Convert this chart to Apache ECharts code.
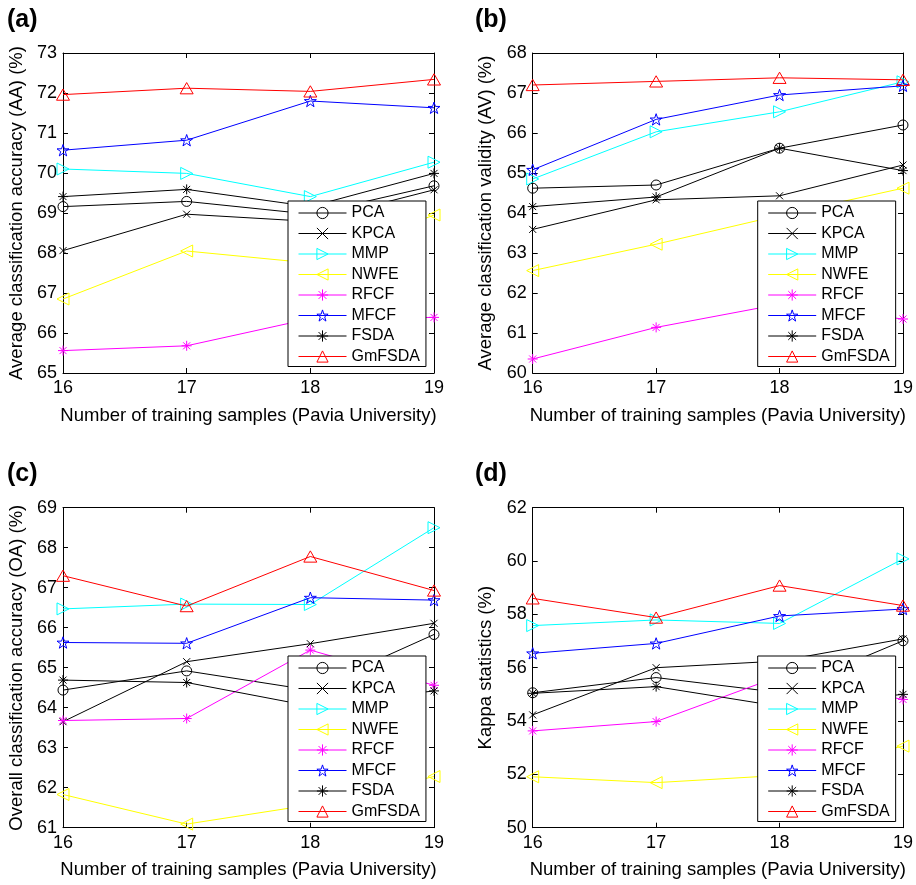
<!DOCTYPE html>
<html><head><meta charset="utf-8">
<script src="https://cdn.jsdelivr.net/npm/echarts@6/dist/echarts.min.js"></script>
<style>html,body{margin:0;padding:0;background:#fff}#c{width:916px;height:885px}</style>
</head><body><div id="c"></div>
<script>
// ---------------- data ----------------
const trainingSamples = [16, 17, 18, 19];
const methods = ['PCA', 'KPCA', 'MMP', 'NWFE', 'RFCF', 'MFCF', 'FSDA', 'GmFSDA'];

// (a) Average classification accuracy (AA) (%)
const aaPCA    = [69.16, 69.29, 68.97, 69.68];
const aaKPCA   = [68.06, 68.97, 68.79, 69.58];
const aaMMP    = [70.10, 69.99, 69.41, 70.27];
const aaNWFE   = [66.85, 68.05, 67.75, 68.95];
const aaRFCF   = [65.56, 65.68, 66.36, 66.39];
const aaMFCF   = [70.57, 70.82, 71.80, 71.63];
const aaFSDA   = [69.41, 69.59, 69.16, 69.99];
const aaGmFSDA = [71.96, 72.12, 72.04, 72.34];

// (b) Average classification validity (AV) (%)
const avPCA    = [64.62, 64.70, 65.62, 66.20];
const avKPCA   = [63.59, 64.33, 64.43, 65.20];
const avMMP    = [64.85, 66.03, 66.53, 67.28];
const avNWFE   = [62.56, 63.22, 63.94, 64.62];
const avRFCF   = [60.35, 61.14, 61.72, 61.35];
const avMFCF   = [65.08, 66.34, 66.95, 67.18];
const avFSDA   = [64.16, 64.40, 65.62, 65.06];
const avGmFSDA = [67.20, 67.29, 67.38, 67.33];

// (c) Overall classification accuracy (OA) (%)
const oaPCA    = [64.44, 64.92, 64.44, 65.83];
const oaKPCA   = [63.65, 65.15, 65.60, 66.11];
const oaMMP    = [66.47, 66.59, 66.58, 68.50];
const oaNWFE   = [61.83, 61.09, 61.57, 62.28];
const oaRFCF   = [63.68, 63.73, 65.44, 64.56];
const oaMFCF   = [65.63, 65.61, 66.75, 66.69];
const oaFSDA   = [64.69, 64.63, 64.04, 64.42];
const oaGmFSDA = [67.30, 66.54, 67.78, 66.93];

// (d) Kappa statistics (%)
const kPCA    = [55.06, 55.63, 55.07, 57.01];
const kKPCA   = [54.23, 56.00, 56.25, 57.08];
const kMMP    = [57.58, 57.79, 57.66, 60.08];
const kNWFE   = [51.91, 51.69, 51.96, 53.06];
const kRFCF   = [53.63, 53.98, 55.68, 54.81];
const kMFCF   = [56.54, 56.91, 57.94, 58.20];
const kFSDA   = [55.04, 55.29, 54.55, 55.00];
const kGmFSDA = [58.60, 57.88, 59.08, 58.33];

// axis ranges [min, max, interval]
const yRangeA = [65, 73, 1];
const yRangeB = [60, 68, 1];
const yRangeC = [61, 69, 1];
const yRangeD = [50, 62, 2];

const panelLabels = ['(a)', '(b)', '(c)', '(d)'];
const yTitles = ['Average classification accuracy (AA) (%)', 'Average classification validity (AV) (%)',
                 'Overall classification accuracy (OA) (%)', 'Kappa statistics (%)'];
const xTitle = 'Number of training samples (Pavia University)';

// ---------------- styles ----------------
const FONT = 'Liberation Sans, Arial, Helvetica, sans-serif';
function starPath() {
  let d = '';
  for (let k = 0; k < 10; k++) {
    const r = (k % 2) ? 1.95 : 5;
    const a = (-90 + k * 36) * Math.PI / 180;
    d += (k === 0 ? 'M' : 'L') + (5 + r * Math.cos(a)).toFixed(3) + ',' + (5 + r * Math.sin(a)).toFixed(3);
  }
  return 'path://' + d + 'Z';
}
const ASTER = 'path://M5,0L5,10M0,5L10,5M1.5,1.5L8.5,8.5M1.5,8.5L8.5,1.5';
const styles = {
  PCA:    { color: '#000000', symbol: 'circle', size: 10 },
  KPCA:   { color: '#000000', symbol: 'path://M0,0L10,10M10,0L0,10', size: 7 },
  MMP:    { color: '#00ffff', symbol: 'path://M0,0L10,5L0,10Z', size: 12 },
  NWFE:   { color: '#ffff00', symbol: 'path://M10,0L0,5L10,10Z', size: 12 },
  RFCF:   { color: '#ff00ff', symbol: ASTER, size: 10 },
  MFCF:   { color: '#0000ff', symbol: starPath(), size: 12 },
  FSDA:   { color: '#000000', symbol: ASTER, size: 10 },
  GmFSDA: { color: '#ff0000', symbol: 'path://M5,0L10,8.66L0,8.66Z', size: 13 }
};

const panelData = [
  [aaPCA, aaKPCA, aaMMP, aaNWFE, aaRFCF, aaMFCF, aaFSDA, aaGmFSDA],
  [avPCA, avKPCA, avMMP, avNWFE, avRFCF, avMFCF, avFSDA, avGmFSDA],
  [oaPCA, oaKPCA, oaMMP, oaNWFE, oaRFCF, oaMFCF, oaFSDA, oaGmFSDA],
  [kPCA, kKPCA, kMMP, kNWFE, kRFCF, kMFCF, kFSDA, kGmFSDA]
];
const yRanges = [yRangeA, yRangeB, yRangeC, yRangeD];

// layout
const gridW = 371, gridH = 320;
const layout = [
  { left: 63,    top: 53,    lx: 7,   ly: 22,    legL: 288,   legT: 201 },
  { left: 532.7, top: 53,    lx: 475, ly: 22,    legL: 757.7, legT: 201 },
  { left: 63,    top: 507.7, lx: 7,   ly: 475.5, legL: 288,   legT: 656 },
  { left: 532.7, top: 507.7, lx: 475, ly: 475.5, legL: 757.7, legT: 656 }
];

const grid = [], xAxis = [], yAxis = [], series = [], legend = [], graphic = [];
const axLine = { show: true, onZero: false, lineStyle: { color: '#000', width: 1 } };
const axTick = { show: true, inside: true, length: 5, lineStyle: { color: '#000', width: 1 } };

const legendItems = methods.map(m => ({
  name: m,
  itemStyle: { color: 'rgba(0,0,0,0)', borderColor: styles[m].color, borderWidth: 1 },
  lineStyle: { color: styles[m].color, width: 1 }
}));

layout.forEach((L, p) => {
  grid.push({ left: L.left, top: L.top, width: gridW, height: gridH, containLabel: false });
  const [ymin, ymax, ystep] = yRanges[p];
  xAxis.push({
    gridIndex: p, type: 'value', min: 16, max: 19, interval: 1, position: 'bottom',
    name: xTitle, nameLocation: 'middle', nameGap: 33,
    nameTextStyle: { fontSize: 18.5, color: '#000', fontFamily: FONT },
    axisLine: axLine, axisTick: axTick,
    axisLabel: { fontSize: 18, color: '#000', margin: 6, fontFamily: FONT },
    splitLine: { show: false }
  });
  xAxis.push({
    gridIndex: p, type: 'value', min: 16, max: 19, interval: 1, position: 'top',
    axisLine: axLine, axisTick: axTick, axisLabel: { show: false }, splitLine: { show: false }
  });
  yAxis.push({
    gridIndex: p, type: 'value', min: ymin, max: ymax, interval: ystep, position: 'left',
    name: yTitles[p], nameLocation: 'middle', nameGap: 37,
    nameTextStyle: { fontSize: 18.5, color: '#000', fontFamily: FONT },
    axisLine: axLine, axisTick: axTick,
    axisLabel: { fontSize: 18, color: '#000', margin: 6, fontFamily: FONT },
    splitLine: { show: false }
  });
  yAxis.push({
    gridIndex: p, type: 'value', min: ymin, max: ymax, interval: ystep, position: 'right',
    axisLine: axLine, axisTick: axTick, axisLabel: { show: false }, splitLine: { show: false }
  });
  methods.forEach((m, i) => {
    const s = styles[m];
    series.push({
      type: 'line', name: m, xAxisIndex: p * 2, yAxisIndex: p * 2,
      data: trainingSamples.map((x, k) => [x, panelData[p][i][k]]),
      symbol: s.symbol, symbolSize: s.size, symbolKeepAspect: true, showAllSymbol: true,
      lineStyle: { color: s.color, width: 1 },
      itemStyle: { color: 'rgba(0,0,0,0)', borderColor: s.color, borderWidth: 1 },
      emphasis: { disabled: true }, clip: false, animation: false, z: 2 + i * 0.01
    });
  });
  legend.push({
    orient: 'vertical', left: L.legL, top: L.legT, data: legendItems,
    itemWidth: 48, itemHeight: 14, itemGap: 4.5, padding: [4, 6, 2, 10],
    backgroundColor: '#fff', borderColor: '#000', borderWidth: 1, borderRadius: 0,
    selectedMode: false, z: 10, symbolKeepAspect: true,
    textStyle: { fontSize: 16, lineHeight: 16, color: '#000', fontFamily: FONT }
  });
  graphic.push({
    type: 'text', left: L.lx, top: L.ly - 14,
    style: { text: panelLabels[p], font: 'bold 25px ' + FONT, fill: '#000' }
  });
});

const chart = echarts.init(document.getElementById('c'), null, { renderer: 'canvas' });
chart.setOption({
  animation: false, backgroundColor: '#fff',
  grid, xAxis, yAxis, series, legend, graphic
});
</script>
</body></html>
